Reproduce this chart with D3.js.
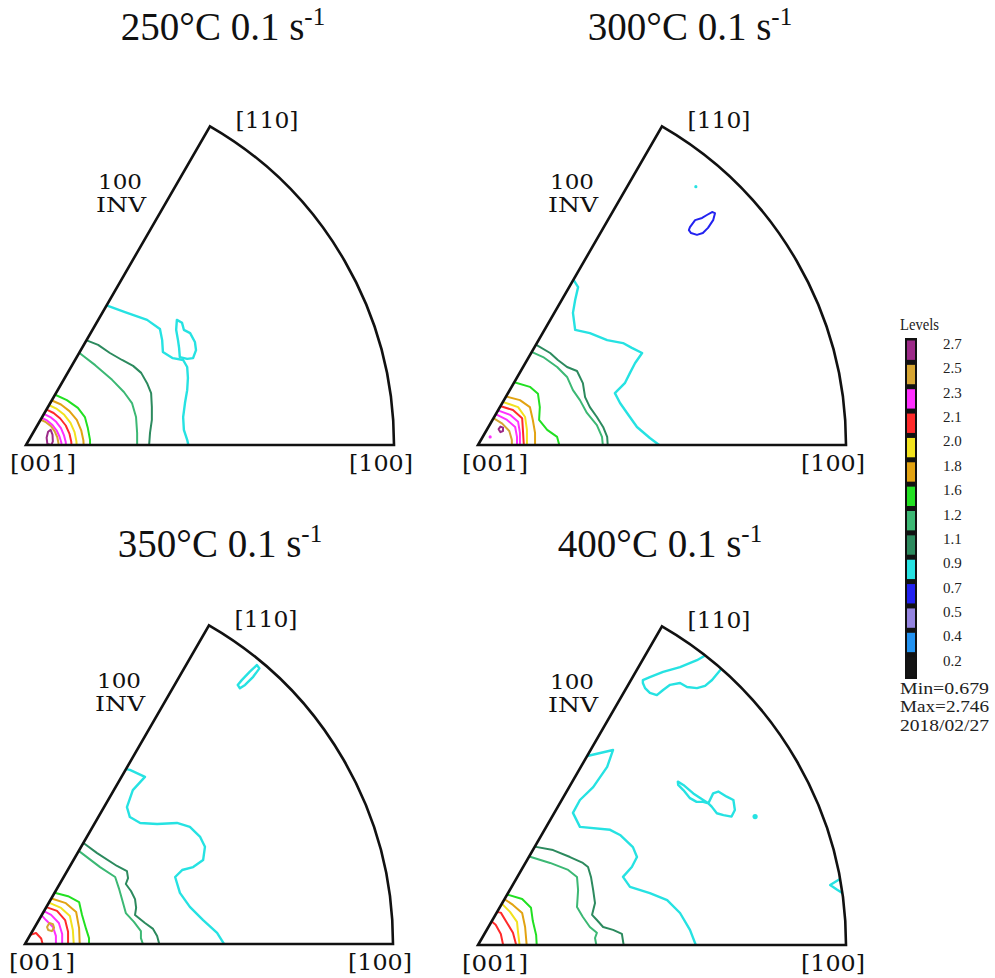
<!DOCTYPE html>
<html>
<head>
<meta charset="utf-8">
<script src="https://cdn.jsdelivr.net/npm/d3@7"></script>
<style>
  html, body { margin: 0; padding: 0; background: #fff; }
  svg { display: block; }
</style>
</head>
<body>
<svg id="chart" width="995" height="978"></svg>
<script>
// ---- Legend levels (top to bottom) and their colours ----
const levels = [2.7, 2.5, 2.3, 2.1, 2.0, 1.8, 1.6, 1.2, 1.1, 0.9, 0.7, 0.5, 0.4, 0.2];
const levelLabels = ["2.7", "2.5", "2.3", "2.1", "2.0", "1.8", "1.6", "1.2", "1.1", "0.9", "0.7", "0.5", "0.4", "0.2"];
const levelColors = ["#9c2a88", "#d6a532", "#ff30ff", "#ff2a2a", "#f2e21e", "#e2a312", "#22e022",
                     "#3cb874", "#2c8a5e", "#26e2e2", "#2222f0", "#9484e0", "#2292f0", "#141414"];
const legendTitle = "Levels";
const statsLines = ["Min=0.679", "Max=2.746", "2018/02/27"];

// ---- Panel texts ----
const titles = ["250°C 0.1 s", "300°C 0.1 s", "350°C 0.1 s", "400°C 0.1 s"];
const rateExponent = "-1";
const poleLabels = { origin: "[001]", right: "[100]", top: "[110]" };
const projectionLabel = ["100", "INV"];

// ---- Contour lines in projection coordinates (unit = projection radius, origin at [001]) ----
const contours250 = [
  { level: 0.9, pts: [[0.217,0.380],[0.269,0.361],[0.329,0.340],[0.364,0.315],[0.370,0.285],[0.372,0.253],[0.399,0.236],[0.427,0.231],[0.438,0.212],[0.440,0.182],[0.438,0.149],[0.432,0.114],[0.427,0.076],[0.429,0.041],[0.438,0.014],[0.443,-0.008]] },
  { level: 0.9, closed: true, pts: [[0.410,0.340],[0.424,0.332],[0.429,0.313],[0.446,0.304],[0.459,0.280],[0.462,0.258],[0.454,0.236],[0.438,0.234],[0.418,0.239],[0.416,0.264],[0.413,0.285],[0.408,0.313]] },
  { level: 1.1, pts: [[0.158,0.287],[0.196,0.272],[0.228,0.250],[0.261,0.231],[0.291,0.215],[0.313,0.196],[0.329,0.168],[0.340,0.141],[0.342,0.103],[0.342,0.068],[0.337,0.033],[0.334,-0.008]] },
  { level: 1.2, pts: [[0.140,0.254],[0.188,0.217],[0.234,0.177],[0.266,0.144],[0.288,0.114],[0.299,0.076],[0.302,0.033],[0.302,-0.008]] },
  { level: 1.6, pts: [[0.072,0.140],[0.111,0.122],[0.141,0.101],[0.160,0.076],[0.168,0.046],[0.174,0.014],[0.174,-0.008]] },
  { level: 1.8, pts: [[0.066,0.123],[0.095,0.110],[0.118,0.092],[0.138,0.068],[0.150,0.040],[0.156,0.012],[0.157,-0.008]] },
  { level: 2.0, pts: [[0.059,0.110],[0.084,0.098],[0.104,0.082],[0.121,0.060],[0.132,0.035],[0.137,0.010],[0.138,-0.008]] },
  { level: 2.1, pts: [[0.052,0.098],[0.075,0.087],[0.093,0.072],[0.108,0.053],[0.118,0.031],[0.123,0.009],[0.124,-0.008]] },
  { level: 2.3, pts: [[0.046,0.086],[0.066,0.076],[0.082,0.063],[0.095,0.046],[0.103,0.027],[0.108,0.008],[0.109,-0.008]] },
  { level: 2.3, pts: [[0.040,0.075],[0.058,0.066],[0.072,0.054],[0.083,0.040],[0.091,0.023],[0.096,0.007],[0.097,-0.008]] },
  { level: 2.5, pts: [[0.037,0.070],[0.054,0.062],[0.068,0.051],[0.078,0.037],[0.085,0.021],[0.088,0.006],[0.089,-0.008]] },
  { level: 2.7, closed: true, pts: [[0.058,0.003],[0.056,0.020],[0.060,0.036],[0.067,0.041],[0.072,0.028],[0.073,0.010],[0.069,0.000]] }
];

const contours300 = [
  { level: 0.9, pts: [[0.255,0.456],[0.272,0.429],[0.264,0.394],[0.258,0.359],[0.264,0.313],[0.304,0.304],[0.351,0.285],[0.394,0.277],[0.418,0.264],[0.446,0.250],[0.427,0.223],[0.413,0.196],[0.399,0.168],[0.372,0.141],[0.386,0.114],[0.405,0.087],[0.432,0.049],[0.467,0.019],[0.503,-0.008]] },
  { level: 0.7, closed: true, pts: [[0.576,0.592],[0.590,0.611],[0.609,0.617],[0.622,0.625],[0.636,0.633],[0.644,0.630],[0.639,0.611],[0.625,0.590],[0.611,0.576],[0.595,0.571],[0.579,0.576],[0.573,0.584]] },
  { level: 1.1, pts: [[0.155,0.274],[0.196,0.250],[0.217,0.231],[0.242,0.212],[0.269,0.201],[0.285,0.168],[0.291,0.130],[0.304,0.103],[0.323,0.076],[0.340,0.049],[0.351,0.022],[0.353,-0.008]] },
  { level: 1.2, pts: [[0.141,0.255],[0.177,0.239],[0.215,0.212],[0.242,0.185],[0.258,0.149],[0.277,0.122],[0.296,0.087],[0.323,0.054],[0.337,0.022],[0.340,-0.008]] },
  { level: 1.6, pts: [[0.094,0.172],[0.141,0.158],[0.163,0.139],[0.168,0.103],[0.166,0.068],[0.188,0.041],[0.215,0.022],[0.223,-0.008]] },
  { level: 1.8, pts: [[0.072,0.133],[0.114,0.122],[0.141,0.103],[0.149,0.068],[0.155,0.033],[0.155,-0.008]] },
  { level: 2.0, pts: [[0.065,0.118],[0.109,0.103],[0.128,0.076],[0.133,0.041],[0.133,-0.008]] },
  { level: 2.1, pts: [[0.060,0.106],[0.095,0.095],[0.120,0.073],[0.122,0.041],[0.125,-0.008]] },
  { level: 2.3, pts: [[0.054,0.094],[0.087,0.082],[0.109,0.063],[0.114,0.033],[0.114,-0.008]] },
  { level: 2.3, pts: [[0.048,0.084],[0.079,0.068],[0.101,0.049],[0.106,0.022],[0.106,-0.008]] },
  { level: 2.5, pts: [[0.042,0.073],[0.066,0.058],[0.085,0.038],[0.092,0.014],[0.092,-0.008]] },
  { level: 2.7, closed: true, pts: [[0.056,0.043],[0.061,0.050],[0.068,0.047],[0.068,0.038],[0.061,0.035]] }
];

const contours350 = [
  { level: 0.9, pts: [[0.272,0.476],[0.285,0.473],[0.326,0.454],[0.293,0.418],[0.277,0.372],[0.285,0.345],[0.313,0.329],[0.359,0.326],[0.413,0.329],[0.448,0.318],[0.476,0.291],[0.489,0.264],[0.484,0.228],[0.457,0.209],[0.427,0.201],[0.408,0.182],[0.421,0.139],[0.448,0.101],[0.484,0.065],[0.522,0.030],[0.546,-0.008]] },
  { level: 0.9, closed: true, pts: [[0.578,0.704],[0.584,0.695],[0.598,0.704],[0.620,0.726],[0.637,0.749],[0.630,0.758],[0.611,0.740],[0.589,0.717]] },
  { level: 1.1, pts: [[0.158,0.275],[0.196,0.247],[0.250,0.212],[0.277,0.198],[0.280,0.179],[0.274,0.163],[0.288,0.144],[0.299,0.122],[0.302,0.098],[0.299,0.079],[0.326,0.057],[0.348,0.041],[0.359,0.022],[0.367,-0.008]] },
  { level: 1.2, pts: [[0.146,0.253],[0.204,0.209],[0.245,0.182],[0.255,0.152],[0.264,0.120],[0.274,0.084],[0.296,0.060],[0.315,0.035],[0.315,0.016],[0.323,-0.008]] },
  { level: 1.6, pts: [[0.078,0.140],[0.117,0.130],[0.147,0.114],[0.155,0.079],[0.166,0.041],[0.174,0.016],[0.174,-0.008]] },
  { level: 1.8, pts: [[0.068,0.125],[0.111,0.111],[0.139,0.087],[0.147,0.043],[0.149,-0.008]] },
  { level: 2.0, pts: [[0.062,0.114],[0.098,0.098],[0.122,0.076],[0.130,0.038],[0.133,-0.008]] },
  { level: 2.1, pts: [[0.056,0.101],[0.087,0.090],[0.109,0.065],[0.117,0.033],[0.117,-0.008]] },
  { level: 2.3, pts: [[0.050,0.090],[0.071,0.079],[0.092,0.057],[0.101,0.027],[0.101,-0.008]] },
  { level: 2.3, pts: [[0.044,0.079],[0.057,0.065],[0.076,0.046],[0.084,0.022],[0.084,-0.008]] },
  { level: 2.5, closed: true, pts: [[0.060,0.046],[0.066,0.057],[0.076,0.054],[0.079,0.044],[0.073,0.035],[0.063,0.038]] },
  { level: 2.1, pts: [[0.012,0.024],[0.030,0.030],[0.044,0.015],[0.050,-0.008]] }
];

const contours400 = [
  { level: 0.9, pts: [[0.294,0.513],[0.367,0.530],[0.351,0.484],[0.313,0.429],[0.277,0.394],[0.258,0.359],[0.277,0.321],[0.359,0.313],[0.386,0.299],[0.421,0.266],[0.432,0.239],[0.418,0.212],[0.394,0.185],[0.413,0.158],[0.467,0.141],[0.514,0.122],[0.549,0.087],[0.576,0.041],[0.595,-0.008]] },
  { level: 0.9, closed: true, pts: [[0.448,0.720],[0.467,0.728],[0.503,0.742],[0.549,0.755],[0.595,0.774],[0.628,0.793],[0.663,0.753],[0.636,0.720],[0.617,0.704],[0.595,0.698],[0.568,0.701],[0.549,0.712],[0.522,0.707],[0.503,0.693],[0.486,0.679],[0.467,0.685],[0.454,0.698],[0.448,0.712]] },
  { level: 0.9, closed: true, pts: [[0.543,0.444],[0.558,0.435],[0.585,0.412],[0.612,0.394],[0.626,0.385],[0.639,0.412],[0.653,0.417],[0.676,0.403],[0.694,0.394],[0.698,0.367],[0.689,0.349],[0.667,0.353],[0.649,0.358],[0.635,0.376],[0.626,0.385],[0.612,0.389],[0.594,0.389],[0.576,0.399],[0.558,0.421],[0.544,0.435]] },
  { level: 0.9, pts: [[0.988,0.182],[0.957,0.163],[0.976,0.150],[0.995,0.138]] },
  { level: 1.1, pts: [[0.150,0.268],[0.204,0.258],[0.250,0.239],[0.285,0.223],[0.299,0.212],[0.307,0.185],[0.313,0.149],[0.318,0.114],[0.310,0.082],[0.323,0.068],[0.340,0.049],[0.367,0.041],[0.391,0.030],[0.397,-0.008]] },
  { level: 1.2, pts: [[0.135,0.242],[0.196,0.223],[0.245,0.204],[0.269,0.185],[0.272,0.149],[0.269,0.103],[0.285,0.076],[0.304,0.049],[0.323,0.033],[0.318,0.019],[0.323,-0.008]] },
  { level: 1.6, pts: [[0.076,0.138],[0.120,0.125],[0.144,0.101],[0.149,0.065],[0.158,0.027],[0.160,-0.008]] },
  { level: 1.8, pts: [[0.070,0.126],[0.095,0.109],[0.120,0.087],[0.128,0.049],[0.133,-0.008]] },
  { level: 2.0, pts: [[0.064,0.113],[0.087,0.090],[0.106,0.063],[0.109,0.033],[0.114,-0.008]] },
  { level: 2.1, pts: [[0.048,0.090],[0.062,0.088],[0.079,0.060],[0.095,0.033],[0.106,-0.008]] },
  { level: 2.1, pts: [[0.035,0.066],[0.048,0.055],[0.062,0.030],[0.070,-0.008]] }
];

// Isolated spots too small to trace as lines: [u, v, level]
const spots300 = [[0.592, 0.702, 0.9], [0.033, 0.022, 2.3]];
const spots400 = [[0.753, 0.349, 0.9]];

// ---- Layout ----
const W = 995, H = 978;
const R = 368;
const panels = [
  { cx: 26,  cy: 445, tx: 223, ty: 40,  title: titles[0], contours: contours250, spots: [] },
  { cx: 478, cy: 445, tx: 690, ty: 40,  title: titles[1], contours: contours300, spots: spots300 },
  { cx: 25,  cy: 944, tx: 220, ty: 557, title: titles[2], contours: contours350, spots: [] },
  { cx: 478, cy: 945, tx: 660, ty: 557, title: titles[3], contours: contours400, spots: spots400 }
];

const svg = d3.select("#chart");
svg.append("rect").attr("width", W).attr("height", H).attr("fill", "#fff");

const color = d3.scaleOrdinal().domain(levels).range(levelColors);
const x = d3.scaleLinear().domain([0, 1]).range([0, R]);
const y = d3.scaleLinear().domain([0, 1]).range([0, -R]);
const openLine = d3.line().x(d => x(d[0])).y(d => y(d[1])).curve(d3.curveLinear);
const closedLine = d3.line().x(d => x(d[0])).y(d => y(d[1])).curve(d3.curveLinearClosed);

// Standard triangle: [001]-[100] along the bottom, [001]-[110] at 60 degrees, arc [100]-[110]
const sector = d3.arc().innerRadius(0).outerRadius(R).startAngle(Math.PI / 6).endAngle(Math.PI / 2);

const serif = "'Liberation Serif', 'Times New Roman', serif";
const wideSerif = "'DejaVu Serif', serif";

panels.forEach((p, i) => {
  // Title with strain-rate exponent
  const t = svg.append("text")
    .attr("x", p.tx).attr("y", p.ty)
    .attr("text-anchor", "middle")
    .attr("font-family", serif).attr("font-size", 39)
    .attr("fill", "#111");
  t.append("tspan").text(p.title);
  t.append("tspan").attr("dy", -15).attr("font-size", 25).text(rateExponent);

  const g = svg.append("g").attr("transform", `translate(${p.cx},${p.cy})`);

  const clipId = "clip" + i;
  g.append("clipPath").attr("id", clipId).append("path").attr("d", sector());

  const cg = g.append("g").attr("clip-path", `url(#${clipId})`);
  cg.selectAll("path.contour")
    .data(p.contours)
    .join("path")
    .attr("class", "contour")
    .attr("d", d => d.closed ? closedLine(d.pts) : openLine(d.pts))
    .attr("fill", "none")
    .attr("stroke", d => color(d.level))
    .attr("stroke-width", d => d.level === 0.9 ? 2.4 : 2)
    .attr("stroke-linejoin", "round")
    .attr("stroke-linecap", "round");

  cg.selectAll("circle.spot")
    .data(p.spots)
    .join("circle")
    .attr("class", "spot")
    .attr("cx", d => x(d[0])).attr("cy", d => y(d[1]))
    .attr("r", d => d[2] === 0.9 && i === 3 ? 2.6 : 1.6)
    .attr("fill", d => color(d[2]));

  // Outline
  g.append("path").attr("d", sector())
    .attr("fill", "none").attr("stroke", "#111")
    .attr("stroke-width", 2.6).attr("stroke-linejoin", "miter");

  // Pole labels
  const apex = [x(Math.cos(Math.PI / 3)), y(Math.sin(Math.PI / 3))];
  g.append("text").attr("x", x(0) + 17).attr("y", 26)
    .attr("text-anchor", "middle").attr("font-family", wideSerif).attr("font-size", 22)
    .attr("textLength", 66).attr("lengthAdjust", "spacingAndGlyphs")
    .attr("fill", "#111").text(poleLabels.origin);
  g.append("text").attr("x", x(1) - 13).attr("y", 26)
    .attr("text-anchor", "middle").attr("font-family", wideSerif).attr("font-size", 22)
    .attr("textLength", 64).attr("lengthAdjust", "spacingAndGlyphs")
    .attr("fill", "#111").text(poleLabels.right);
  g.append("text").attr("x", apex[0] + 57).attr("y", apex[1] + 2)
    .attr("text-anchor", "middle").attr("font-family", wideSerif).attr("font-size", 22)
    .attr("textLength", 63).attr("lengthAdjust", "spacingAndGlyphs")
    .attr("fill", "#111").text(poleLabels.top);

  // Projection note
  g.append("text").attr("x", 94).attr("y", -256)
    .attr("text-anchor", "middle").attr("font-family", wideSerif).attr("font-size", 20)
    .attr("textLength", 44).attr("lengthAdjust", "spacingAndGlyphs")
    .attr("fill", "#111").text(projectionLabel[0]);
  g.append("text").attr("x", 95).attr("y", -233)
    .attr("text-anchor", "middle").attr("font-family", wideSerif).attr("font-size", 20)
    .attr("textLength", 50).attr("lengthAdjust", "spacingAndGlyphs")
    .attr("fill", "#111").text(projectionLabel[1]);
});

// ---- Legend ----
const lg = svg.append("g");
const cellY = d3.scaleBand().domain(levels).range([338, 679]).paddingInner(0);
lg.append("text").attr("x", 900).attr("y", 330)
  .attr("font-family", serif).attr("font-size", 16)
  .attr("textLength", 39).attr("lengthAdjust", "spacingAndGlyphs")
  .attr("fill", "#222").text(legendTitle);
lg.append("rect").attr("x", 905).attr("y", 338).attr("width", 12).attr("height", 341).attr("fill", "#111");
lg.selectAll("rect.cell")
  .data(levels)
  .join("rect")
  .attr("class", "cell")
  .attr("x", 907).attr("width", 8)
  .attr("y", d => cellY(d) + 2.5)
  .attr("height", cellY.bandwidth() - 5)
  .attr("fill", d => color(d));
lg.selectAll("text.lvl")
  .data(levels)
  .join("text")
  .attr("class", "lvl")
  .attr("x", 943)
  .attr("y", d => cellY(d) + 11)
  .attr("font-family", serif).attr("font-size", 15)
  .attr("fill", "#222")
  .text((d, i) => levelLabels[i]);
lg.selectAll("text.stat")
  .data(statsLines)
  .join("text")
  .attr("class", "stat")
  .attr("x", 900)
  .attr("y", (d, i) => 694 + i * 18.3)
  .attr("font-family", serif).attr("font-size", 16)
  .attr("textLength", 89).attr("lengthAdjust", "spacingAndGlyphs")
  .attr("fill", "#222")
  .text(d => d);
</script>
</body>
</html>
